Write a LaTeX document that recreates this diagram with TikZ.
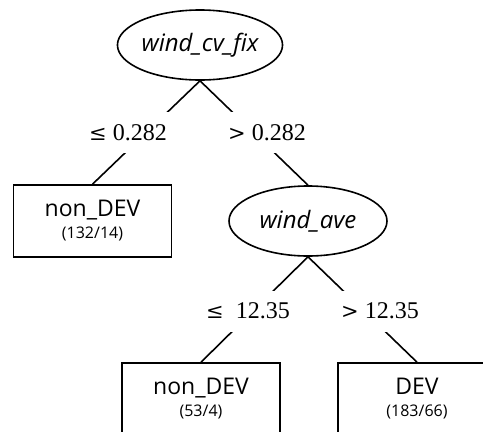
\documentclass[tikz,border=0pt]{standalone}
\usepackage{fontspec}
\setmainfont{Open Sans}
\newfontfamily\condfont{Liberation Serif}
\newfontfamily\relfont{DejaVu Serif}
\usepackage{tikz}
\usetikzlibrary{shapes, positioning}

\begin{document}
\begin{tikzpicture}[
    x=1pt, y=-1pt,
    every node/.style={align=center},
    split/.style={draw, ellipse, line width=1.6pt, minimum width=158pt, minimum height=70pt,
                inner sep=0pt, font=\fontsize{24}{26}\selectfont\itshape},
    leaf/.style={draw, rectangle, line width=1.6pt, minimum width=158pt, minimum height=72pt,
                inner sep=0pt, font=\fontsize{23}{24}\selectfont},
    cond/.style={fill=white, minimum height=41pt, inner xsep=3pt, inner ysep=0pt,
                font=\condfont\fontsize{24}{26}\selectfont},
    edge/.style={line width=1.6pt}
]
\newcommand{\cnt}[1]{{\fontsize{16}{17}\selectfont (#1)}}
\newcommand{\rel}[1]{{\relfont\fontsize{21}{26}\selectfont #1}}
\clip (0,0) rectangle (483,432);
\node[split] (root) at (200,45) {wind\_cv\_fix};
\node[leaf] (leafA) at (92.5,221) {non\_DEV\\[-2pt]\cnt{132/14}};
\node[split] (ave) at (308,221) {wind\_ave};
\node[leaf] (leafB) at (201,399) {non\_DEV\\[-2pt]\cnt{53/4}};
\node[leaf] (leafC) at (417,399) {DEV\\[-2pt]\cnt{183/66}};

\draw[edge] (root.south) -- (leafA.north);
\draw[edge] (root.south) -- (ave.north);
\draw[edge] (ave.south) -- (leafB.north);
\draw[edge] (ave.south) -- (leafC.north);

\node[cond] (c1) at (128,132.5) {\rel{≤} 0.282};
\node[cond] (c2) at (267,132.5) {\rel{>} 0.282};
\node[cond] (c3) at (248,311) {\rel{≤}\enspace 12.35};
\node[cond] (c4) at (380,311) {\rel{>} 12.35};
\end{tikzpicture}
\end{document}
